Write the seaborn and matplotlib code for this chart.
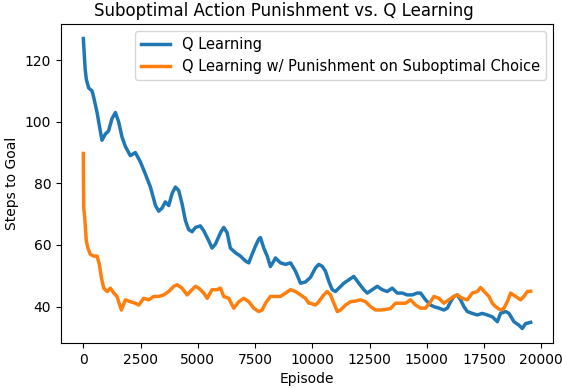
import pandas as pd
import matplotlib
matplotlib.use("Agg")
import matplotlib.pyplot as plt
import seaborn as sns

# --- values ---
q_episodes = [0, 40, 80, 130, 230, 380, 450, 600, 740, 815, 960, 1100, 1250, 1400,
              1540, 1690, 1835, 2050, 2270, 2490, 2710, 2930, 3150, 3290, 3440, 3580,
              3730, 3875, 4020, 4165, 4310, 4460, 4600, 4750, 4895, 5110, 5260, 5480,
              5620, 5770, 5990, 6130, 6280, 6420, 6640, 6860, 7080, 7225, 7370, 7520,
              7660, 7735, 7880, 8030, 8170, 8320, 8390, 8610, 8830, 9050, 9265, 9485,
              9700, 9920, 10140, 10280, 10430, 10575, 10720, 10870, 11010, 11160, 11375,
              11595, 11810, 12030, 12250, 12400, 12620, 12835, 13050, 13270, 13490,
              13710, 13930, 14145, 14365, 14580, 14730, 14945, 15165, 15310, 15530,
              15745, 15895, 16040, 16185, 16330, 16475, 16620, 16770, 16985, 17205,
              17420, 17640, 17860, 18080, 18220, 18440, 18590, 18805, 19020, 19170,
              19315, 19535]
q_steps = [127, 122, 117, 113.8, 111, 110, 108, 103, 97, 94, 96, 97, 101, 103,
           100, 95, 92, 89, 90, 87, 83, 78.8, 72.8, 71, 72, 74,
           72.8, 76.7, 78.8, 77.7, 73.4, 67.9, 65, 64.3, 65.7, 66.2, 64.6, 61.3,
           59, 60.3, 64, 65.7, 64, 59, 57.5, 56.4, 54.8, 54.2, 57, 59.7,
           61.9, 62.4, 59, 56.4, 53, 54.8, 55.8, 54.2, 53.7, 54.2, 51.5, 47.6,
           48, 49.5, 52.6, 53.7, 53.1, 51.5, 48.2, 45.5, 44.9, 46, 47.6,
           48.7, 49.8, 47.6, 45.5, 44.4, 45.5, 46.6, 45.5, 44.9, 46,
           44.4, 44.4, 43.8, 43.8, 44.4, 44.4, 42.2, 40.5, 40, 39.5,
           38.9, 39.5, 41.6, 43.3, 43.8, 42.2, 40, 38.4, 37.8, 37.3,
           37.8, 37.3, 36.7, 35.1, 37.8, 38.4, 37.8, 35.1, 34, 32.9,
           34.5, 34.9]

p_episodes = [0, 15, 60, 130, 200, 300, 450, 600, 700, 790, 890, 1040, 1180, 1330,
              1470, 1660, 1835, 2050, 2270, 2420, 2635, 2855, 3075, 3290, 3510, 3730,
              3950, 4095, 4310, 4530, 4750, 4895, 5040, 5260, 5410, 5620, 5840, 5990,
              6130, 6350, 6500, 6570, 6790, 7005, 7225, 7440, 7660, 7810, 7955, 8170,
              8390, 8610, 8830, 9050, 9265, 9485, 9700, 9850, 9920, 10140, 10280,
              10500, 10650, 10795, 10940, 11090, 11230, 11450, 11670, 11885, 12105,
              12325, 12545, 12760, 12980, 13200, 13415, 13635, 13855, 14070, 14290,
              14510, 14730, 14945, 15165, 15310, 15530, 15745, 15965, 16185, 16330,
              16550, 16770, 16985, 17205, 17350, 17570, 17715, 17860, 18005, 18220,
              18370, 18515, 18660, 18880, 19100, 19240, 19390, 19535]
p_steps = [89.7, 72, 69, 61.3, 59, 57, 56.4, 56.4, 53.7, 49.3, 46, 44.9, 46, 44.4,
           43.3, 38.9, 42.2, 41.6, 41.1, 40.5, 42.7, 42.2, 43.3, 43.3, 43.8, 44.9,
           46.6, 47.1, 46, 43.8, 45.5, 46.6, 46, 44.4, 42.7, 45.5, 45.5, 46,
           43.3, 42.7, 40.5, 39.5, 41.6, 42.7, 41.6, 39.5, 38.4, 38.9, 41.1, 43.3,
           43.3, 43.3, 44.4, 45.5, 44.9, 43.8, 42.7, 41.1, 41.1, 40.5, 41.6,
           43.8, 44.9, 43.8, 41.1, 38.4, 38.9, 40.5, 41.6, 41.8, 42.2,
           41.6, 40, 38.9, 38.9, 39.1, 39.4, 41.1, 41.1, 41.1, 42.2,
           40.5, 39.5, 39.5, 41.6, 43.3, 42.7, 41.1, 42.2, 43.3, 43.8,
           42.7, 42.2, 44.4, 44.9, 46.2, 44.4, 43.3, 41.1, 40, 38.9,
           39.5, 41.6, 44.4, 43.3, 42.2, 43.3, 44.9, 45]

series_names = ["Q Learning", "Q Learning w/ Punishment on Suboptimal Choice"]

df = pd.concat([
    pd.DataFrame({"Episode": q_episodes, "Steps": q_steps, "Method": series_names[0]}),
    pd.DataFrame({"Episode": p_episodes, "Steps": p_steps, "Method": series_names[1]}),
])

fig, ax = plt.subplots(figsize=(5.62, 3.88), dpi=100)
fig.subplots_adjust(left=0.1085, right=0.984, top=0.938, bottom=0.116)

sns.lineplot(data=df, x="Episode", y="Steps", hue="Method",
             palette=["#1f77b4", "#ff7f0e"], linewidth=2.5, ax=ax)

# title sits centred on the figure rather than the axes in the original
ax.set_title("Suboptimal Action Punishment vs. Q Learning", fontsize=12, x=0.452)
ax.set_xlabel("Episode")
ax.set_ylabel("Steps to Goal")
ax.set_xticks([0, 2500, 5000, 7500, 10000, 12500, 15000, 17500, 20000])
ax.legend(loc="upper right", fontsize=10.5)

fig.savefig("out.png", dpi=100)
